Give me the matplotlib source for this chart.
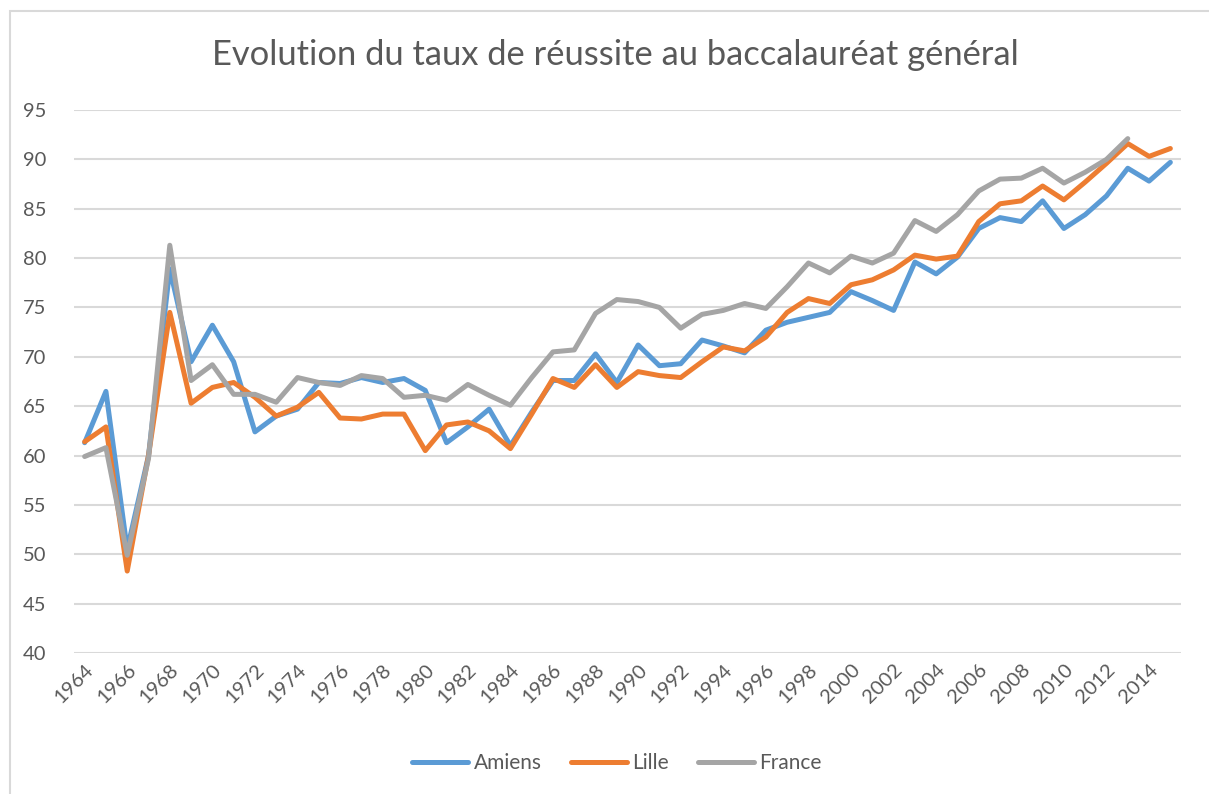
import matplotlib.pyplot as plt
from matplotlib.patches import Rectangle

plt.rcParams['font.family'] = ['Lato', 'DejaVu Sans']

years = list(range(1964, 2016))

amiens = [61.3, 66.5, 50.5, 60.0, 78.9, 69.5, 73.2, 69.5, 62.4, 64.0,
          64.7, 67.4, 67.3, 67.9, 67.4, 67.8, 66.6, 61.3, 62.9, 64.7,
          61.0, 64.4, 67.6, 67.6, 70.3, 67.4, 71.2, 69.1, 69.3, 71.7,
          71.1, 70.4, 72.7, 73.5, 74.0, 74.5, 76.6, 75.7, 74.7, 79.6,
          78.4, 80.1, 83.0, 84.1, 83.7, 85.8, 83.0, 84.4, 86.3, 89.1,
          87.8, 89.7]

lille = [61.4, 62.9, 48.3, 60.0, 74.5, 65.3, 66.9, 67.4, 65.9, 64.0,
         64.9, 66.4, 63.8, 63.7, 64.2, 64.2, 60.5, 63.1, 63.4, 62.5,
         60.7, 64.2, 67.8, 66.9, 69.2, 66.9, 68.5, 68.1, 67.9, 69.5,
         71.0, 70.6, 72.0, 74.5, 75.9, 75.4, 77.3, 77.8, 78.8, 80.3,
         79.9, 80.2, 83.7, 85.5, 85.8, 87.3, 85.9, 87.7, 89.6, 91.6,
         90.3, 91.1]

france = [59.9, 60.8, 49.9, 59.7, 81.3, 67.6, 69.2, 66.2, 66.2, 65.4,
          67.9, 67.4, 67.1, 68.1, 67.8, 65.9, 66.1, 65.6, 67.2, 66.1,
          65.1, 67.9, 70.5, 70.7, 74.4, 75.8, 75.6, 75.0, 72.9, 74.3,
          74.7, 75.4, 74.9, 77.1, 79.5, 78.5, 80.2, 79.5, 80.5, 83.8,
          82.7, 84.4, 86.8, 88.0, 88.1, 89.1, 87.6, 88.7, 90.0, 92.1]

yticks = list(range(40, 100, 5))
xtick_years = list(range(1964, 2016, 2))

txt = '#595959'
fig = plt.figure(figsize=(12.09, 7.94), dpi=100)

# cadre du graphique (style Excel)
fig.patches.append(Rectangle((10 / 1209, -0.01), 1.0, 1 - 11 / 794 + 0.01,
                             transform=fig.transFigure, fill=False,
                             edgecolor='#D9D9D9', linewidth=1.5))

ax = fig.add_axes([74 / 1209, 1 - 653 / 794, (1181 - 74) / 1209, (653 - 110) / 794])

ax.plot(years, amiens, color='#5B9BD5', linewidth=3.6, label='Amiens',
        solid_joinstyle='round', solid_capstyle='round')
ax.plot(years, lille, color='#ED7D31', linewidth=3.6, label='Lille',
        solid_joinstyle='round', solid_capstyle='round')
ax.plot(years[:len(france)], france, color='#A5A5A5', linewidth=3.6, label='France',
        solid_joinstyle='round', solid_capstyle='round')

ax.set_xlim(1963.5, 2015.5)
ax.set_ylim(40, 95)
ax.set_yticks(yticks)
ax.set_xticks(xtick_years)
ax.set_xticklabels([str(y) for y in xtick_years], rotation=45, ha='right',
                   va='top', rotation_mode='anchor')
ax.tick_params(axis='both', length=0, labelsize=14.5, labelcolor=txt)
ax.tick_params(axis='y', pad=20)
ax.tick_params(axis='x', pad=6)

ax.grid(axis='y', color='#D9D9D9', linewidth=1.5)
ax.set_axisbelow(True)
for s in ax.spines.values():
    s.set_visible(False)

fig.text(615 / 1209, 1 - 55 / 794, 'Evolution du taux de réussite au baccalauréat général',
         ha='center', va='center', fontsize=24.8, color=txt)

fig.legend(loc='center', bbox_to_anchor=(617 / 1209, 1 - 763 / 794), ncol=3, frameon=False,
           fontsize=15, labelcolor=txt, handlelength=2.7, handletextpad=0.25,
           columnspacing=1.4)

plt.savefig('out.png', dpi=100)
